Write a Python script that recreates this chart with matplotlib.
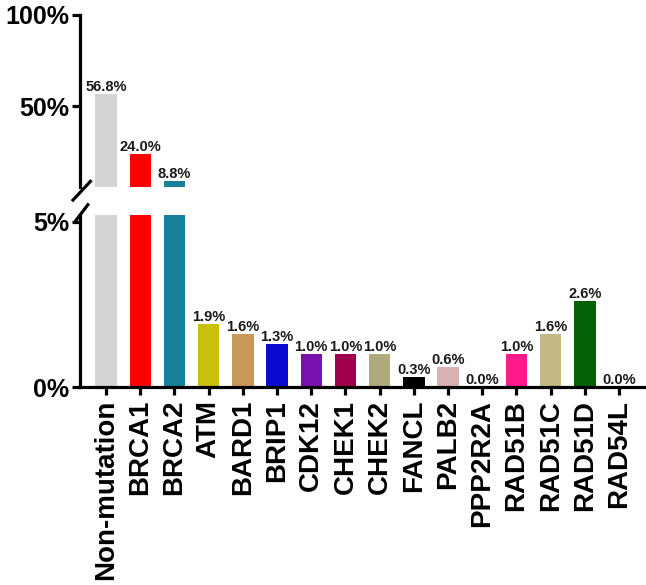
import numpy as np
import matplotlib.pyplot as plt

plt.rcParams["font.family"] = ["Liberation Sans", "DejaVu Sans"]
plt.rcParams["font.weight"] = "bold"

GENES = ["Non-mutation", "BRCA1", "BRCA2", "ATM", "BARD1", "BRIP1", "CDK12",
         "CHEK1", "CHEK2", "FANCL", "PALB2", "PPP2R2A", "RAD51B", "RAD51C",
         "RAD51D", "RAD54L"]
PCT = [56.8, 24.0, 8.8, 1.9, 1.6, 1.3, 1.0, 1.0, 1.0, 0.3, 0.6, 0.0, 1.0,
       1.6, 2.6, 0.0]
COLORES = ["#d4d4d4", "#ff0000", "#16809a", "#c8c00a", "#c8975a", "#0a0ad0",
           "#7a10b0", "#a0004c", "#b0a97e", "#000000", "#d9b3b3", "#ffffff",
           "#ff1a8c", "#c4b884", "#046004", "#ffffff"]

x = np.arange(len(GENES))
fig = plt.figure(figsize=(6.46, 5.85), dpi=100)
ax_top = fig.add_axes([0.124, 0.681, 0.874, 0.294])
ax_bot = fig.add_axes([0.124, 0.338, 0.874, 0.294])

LW = 2.3
for ax in (ax_top, ax_bot):
    ax.bar(x, PCT, width=0.63, color=COLORES)
    ax.set_xlim(-0.76, 15.75)
    ax.spines["top"].set_visible(False)
    ax.spines["right"].set_visible(False)
    ax.spines["left"].set_linewidth(LW)
    ax.tick_params(axis="y", width=LW, length=6, labelsize=18, pad=2)

ax_top.set_ylim(6, 100)
ax_top.set_yticks([50, 100])
ax_top.set_yticklabels(["50%", "100%"], fontweight="bold")
ax_top.spines["bottom"].set_visible(False)
ax_top.set_xticks([])

ax_bot.set_ylim(0, 5.2)
ax_bot.set_yticks([0, 5])
ax_bot.set_yticklabels(["0%", "5%"], fontweight="bold")
ax_bot.spines["bottom"].set_linewidth(LW)
ax_bot.set_xticks(x)
ax_bot.set_xticklabels(GENES, rotation=90, fontsize=20, fontweight="bold")
ax_bot.tick_params(axis="x", width=LW, length=6, pad=3)

# etiquetas de valor: las grandes arriba, el resto abajo
for i, v in enumerate(PCT):
    ax = ax_top if v > 5 else ax_bot
    ax.text(x[i], v, f"{v:.1f}%", ha="center", va="bottom", fontsize=10.5,
            fontweight="bold", color="#1a1a1a", clip_on=False)

# marcas del corte en el eje y
kw = dict(color="black", lw=LW, clip_on=False, transform=fig.transFigure)
fig.add_artist(plt.Line2D([0.113, 0.140], [0.658, 0.690], **kw))
fig.add_artist(plt.Line2D([0.116, 0.136], [0.621, 0.650], **kw))

fig.savefig("out.png", dpi=100)
